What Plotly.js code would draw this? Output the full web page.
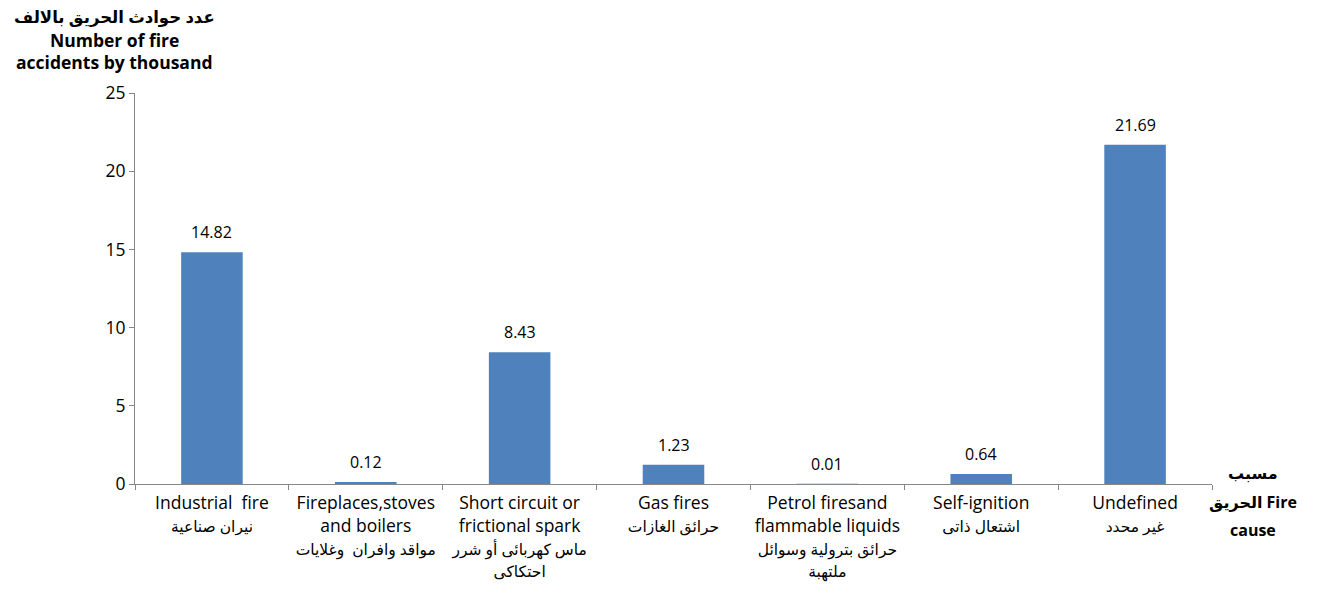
<!DOCTYPE html>
<html>
<head>
<meta charset="utf-8">
<script src="https://cdn.plot.ly/plotly-3.0.1.min.js"></script>
<style>html,body{margin:0;padding:0;background:#fff;}#chart{width:1324px;height:594px;}</style>
</head>
<body>
<div id="chart"></div>
<script>
const englishLabels = [
  "Industrial  fire",
  "Fireplaces,stoves<br>and boilers",
  "Short circuit or<br>frictional spark",
  "Gas fires",
  "Petrol firesand<br>flammable liquids",
  "Self-ignition",
  "Undefined"
];
const arabicLabels = [
  "نيران صناعية",
  "مواقد وافران  وغلايات",
  "ماس كهربائى أو شرر<br>احتكاكى",
  "حرائق الغازات",
  "حرائق بترولية وسوائل<br>ملتهبة",
  "اشتعال ذاتى",
  "غير محدد"
];
const values = [14.82, 0.12, 8.43, 1.23, 0.01, 0.64, 21.69];
const valueLabels = ["14.82", "0.12", "8.43", "1.23", "0.01", "0.64", "21.69"];
const yTicks = [0, 5, 10, 15, 20, 25];
const yTitleLines = ["عدد حوادث الحريق بالالف", "Number of fire", "accidents by thousand"];
const xTitleLines = ["مسبب", "الحريق Fire", "cause"];

const font = "Open Sans, DejaVu Sans, sans-serif";
const arSpan = t => t.split("<br>").map(s => '<span style="font-size:15.5px">' + s + '</span>').join("<br>");

const categories = englishLabels.map((e, i) => e + "<br>" + arSpan(arabicLabels[i]));

const trace = {
  type: "bar",
  x: categories,
  y: values,
  marker: {color: "#4F81BD"},
  hoverinfo: "x+y"
};

const valueAnnotations = categories.map((c, i) => ({
  x: c, y: values[i], xref: "x", yref: "y",
  text: valueLabels[i],
  showarrow: false, xanchor: "center", yanchor: "bottom",
  yshift: 7,
  font: {family: font, size: 16, color: "#000"}
}));

const yTitleShifts = [77, 53, 31];
const yTitleSizes = [16.5, 17.5, 17.5];
const yTitleAnnotations = yTitleLines.map((t, i) => ({
  text: "<b>" + t + "</b>",
  xref: "paper", yref: "paper",
  x: -0.0186, y: 1, xanchor: "center", yanchor: "middle",
  yshift: yTitleShifts[i],
  showarrow: false,
  font: {family: font, size: yTitleSizes[i], color: "#000"}
}));

const xTitleShifts = [11, -18, -46];
const xTitleAnnotations = xTitleLines.map((t, i) => ({
  text: "<b>" + t + "</b>",
  xref: "paper", yref: "paper",
  x: 1.038, y: 0, xanchor: "center", yanchor: "middle",
  yshift: xTitleShifts[i],
  showarrow: false,
  font: {family: font, size: 16, color: "#000"}
}));

const layout = {
  width: 1324,
  height: 594,
  margin: {l: 135, r: 112, t: 93, b: 110},
  paper_bgcolor: "#fff",
  plot_bgcolor: "#fff",
  bargap: 0.6,
  showlegend: false,
  font: {family: font, size: 16, color: "#000"},
  xaxis: {
    type: "category",
    showline: true,
    linecolor: "#868686",
    linewidth: 1,
    ticks: "outside",
    tickson: "boundaries",
    ticklen: 5,
    tickcolor: "#868686",
    tickangle: 0,
    ticklabelstandoff: 3,
    tickfont: {family: font, size: 17.5, color: "#000"},
    showgrid: false,
    zeroline: false,
    automargin: false
  },
  yaxis: {
    range: [0, 25],
    tickvals: yTicks,
    showline: true,
    linecolor: "#868686",
    linewidth: 1,
    ticks: "outside",
    ticklen: 5,
    tickcolor: "#868686",
    tickfont: {family: font, size: 17.5, color: "#000"},
    showgrid: false,
    zeroline: false,
    automargin: false
  },
  annotations: valueAnnotations.concat(yTitleAnnotations, xTitleAnnotations)
};

Plotly.newPlot("chart", [trace], layout, {displayModeBar: false, staticPlot: true});
</script>
</body>
</html>
